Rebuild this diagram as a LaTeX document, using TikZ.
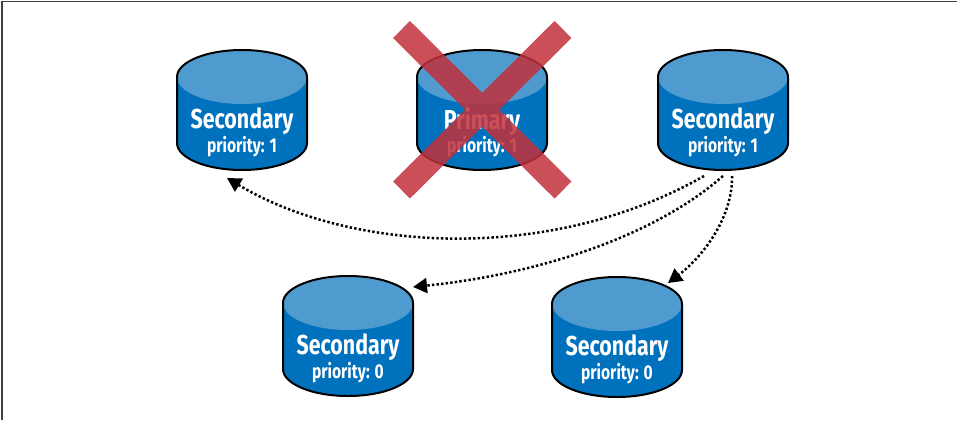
\documentclass[tikz,border=0pt]{standalone}
\usepackage{fontspec}
\setsansfont[FakeStretch=0.78]{Fira Sans}
\usetikzlibrary{arrows.meta}
\definecolor{dbbody}{HTML}{0071BC}
\definecolor{dbtop}{HTML}{4F9BD0}
\definecolor{crossred}{HTML}{C2313B}
\tikzset{
    dbbox/.style={minimum width=130pt,minimum height=120pt,inner sep=0pt,outer sep=0pt},
    dbtext/.style={text=white,font=\sffamily\bfseries\fontsize{27.4}{27.4}\selectfont},
    dbsmall/.style={text=white,font=\sffamily\bfseries\fontsize{20}{20}\selectfont},
    dbarrow/.style={line width=2.5pt,dash pattern=on 2.4pt off 2.2pt,-{Triangle[length=14pt,width=15pt]}}
}
\newcommand{\dbcan}[5]{
    \fill[dbbody] (#1-65,#2+27) -- (#1-65,#2+93) arc[start angle=180,end angle=0,x radius=65,y radius=27] -- (#1+65,#2+27) -- cycle;
    \fill[dbtop] (#1-65,#2+27) arc[start angle=180,end angle=-180,x radius=65,y radius=27];
    \draw[line width=2pt] (#1-65,#2+93) -- (#1-65,#2+27) arc[start angle=180,end angle=360,x radius=65,y radius=27] -- (#1+65,#2+93) arc[start angle=0,end angle=180,x radius=65,y radius=27];
    \node[dbbox] (#3) at (#1,#2+60) {};
    \node[dbtext] (#3t) at (#1,#2+71) {#4};
    \node[dbsmall] (#3p) at (#1,#2+97) {#5};
}
\begin{document}
\begin{tikzpicture}[x=1pt,y=-1pt]
                \useasboundingbox (0,0) rectangle (957,420);
                \fill[white] (0,0) rectangle (957,420);
                \draw[color=black!75,line width=1.6pt] (2,420) -- (2,1.5) -- (957,1.5);
                \dbcan{242}{50}{secA}{Secondary}{priority: 1}
                \dbcan{482}{50}{prim}{Primary}{priority: 1}
                \dbcan{723}{50}{secC}{Secondary}{priority: 1}
                \dbcan{348}{276}{secD}{Secondary}{priority: 0}
                \dbcan{617}{277}{secE}{Secondary}{priority: 0}
                \draw[color=crossred,opacity=0.85,line width=24pt] (401.5,29.5) -- (563,190) (563,29.5) -- (401.5,190);
                \draw[dbarrow] ([xshift=-19pt,yshift=-6pt]secC.south) .. controls (550,264) and (350,252) .. ([xshift=-15pt,yshift=-8pt]secA.south);
                \draw[dbarrow] ([yshift=-6pt]secC.south) .. controls (650,240) and (530,275) .. ([yshift=-11pt]secD.north east);
                \draw[dbarrow] ([xshift=9pt,yshift=-6pt]secC.south) .. controls (733,215) and (705,255) .. ([xshift=-14pt,yshift=-6pt]secE.north east);
            \end{tikzpicture}
\end{document}
